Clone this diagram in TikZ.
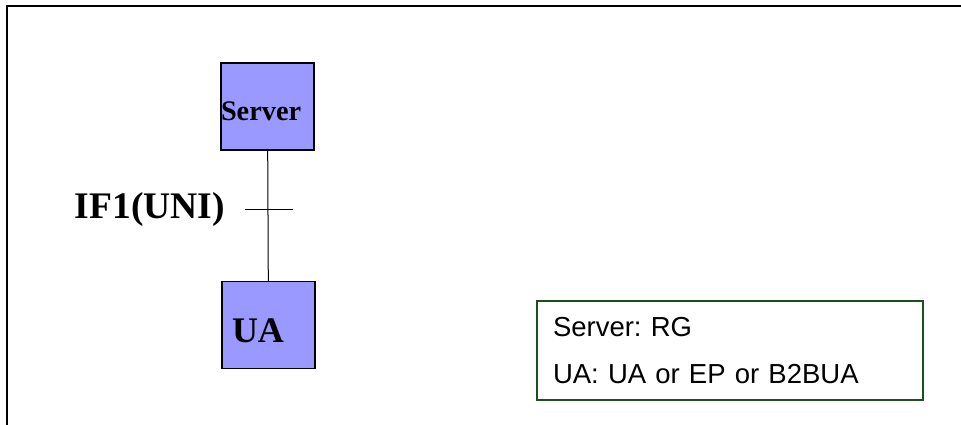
\documentclass[tikz,border=0pt]{standalone}
\usepackage{fontspec}
\setmainfont{Liberation Serif}
\newfontfamily\legendfont{Liberation Sans}
\usepackage{tikz}
\usetikzlibrary{positioning}
\definecolor{boxblue}{RGB}{153,153,255}
\definecolor{legendgreen}{RGB}{30,78,30}
\frenchspacing

\begin{document}
\begin{tikzpicture}[x=1pt,y=-1pt,
	entity/.style = {draw, fill=boxblue, line width=1.2pt, minimum width=93pt, minimum height=87pt,
		text width=93pt, inner xsep=0pt, align=left, font=\bfseries},
	legend/.style = {draw=legendgreen, line width=2pt, minimum height=99pt, text width=354pt,
		inner xsep=16pt, align=left, font=\legendfont\fontsize{27.5}{47}\selectfont}]
	\useasboundingbox (0,0) rectangle (961,425);
	\draw[line width=2.2pt] (7,430) -- (7,6) -- (965,6);
	\node[entity, text height=29pt, font=\bfseries\fontsize{28.3}{30}\selectfont] (server) at (267.5,106.5) {Server};
	\node[entity, text height=35pt, font=\bfseries\fontsize{36}{38}\selectfont] (ua) at (268.5,325) {\hspace*{10pt}UA};
	\draw[line width=1pt] (server) -- (ua);
	\coordinate (tickl) at (245,209);
	\coordinate (tickr) at (293,209);
	\draw[line width=1pt] (tickl) -- (tickr);
	\node[inner sep=0pt, font=\bfseries\fontsize{37.5}{40}\selectfont] (if1) [left=20pt of tickl] {IF1(UNI)};
	\node[legend, anchor=north west] (key) at (536,300) {Server: RG\\UA: UA or EP or B2BUA};
\end{tikzpicture}
\end{document}
